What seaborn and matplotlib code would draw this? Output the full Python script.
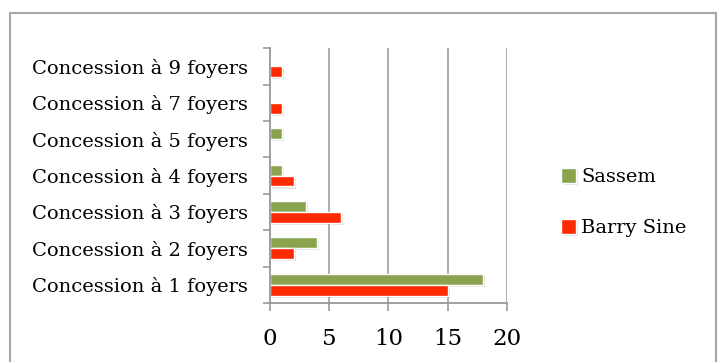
import matplotlib
matplotlib.use("Agg")
import matplotlib.pyplot as plt
import matplotlib.patheffects as pe
from matplotlib.patches import Rectangle
import numpy as np
import pandas as pd
import seaborn as sns

# data (bottom category first)
categories = ["Concession à 1 foyers", "Concession à 2 foyers", "Concession à 3 foyers",
              "Concession à 4 foyers", "Concession à 5 foyers", "Concession à 7 foyers",
              "Concession à 9 foyers"]
sassem = [18, 4, 3, 1, 1, 0, 0]
barry_sine = [15, 2, 6, 2, 0, 1, 1]
series = ["Sassem", "Barry Sine"]
colors = {"Sassem": "#8aa34f", "Barry Sine": "#ff2a00"}
xticks = [0, 5, 10, 15, 20]

df = pd.DataFrame({
    "cat": categories * 2,
    "value": sassem + barry_sine,
    "serie": ["Sassem"] * len(categories) + ["Barry Sine"] * len(categories),
})

sns.set_style("white")
plt.rcParams["font.family"] = ["DejaVu Serif"]
plt.rcParams["text.color"] = "black"

fig = plt.figure(figsize=(7.18, 3.62), dpi=100)
ax = fig.add_axes([0.376, 0.163, 0.330, 0.704])

sns.barplot(data=df, x="value", y="cat", hue="serie", order=categories[::-1],
            hue_order=series, palette=colors, orient="h", width=0.6,
            saturation=1, ax=ax, legend=True)

for bar in ax.patches:
    bar.set_path_effects([pe.SimplePatchShadow(offset=(1.5, -1.5), alpha=0.12), pe.Normal()])

ax.set_xlim(0, 20)
ax.set_xticks(xticks)
ax.set_xticklabels([str(t) for t in xticks], fontsize=16.5, color="black")
ax.set_ylim(len(categories) - 0.5, -0.5)
ax.set_yticks(range(len(categories)))
ax.set_yticklabels(categories[::-1], fontsize=14, color="black")
ax.set_yticks(np.arange(-0.5, len(categories), 1), minor=True)
ax.tick_params(axis="y", which="major", left=False, length=0, pad=16)
ax.tick_params(axis="y", which="minor", left=True, length=5, color="#999999", width=1.2)
ax.tick_params(axis="x", which="major", bottom=True, length=6, color="#999999", width=1.2, pad=12)
ax.set_xlabel("")
ax.set_ylabel("")
ax.xaxis.grid(True, color="#a6a6a6", lw=1.3)
ax.set_axisbelow(True)
for s in ["top", "right"]:
    ax.spines[s].set_visible(False)
for s in ["left", "bottom"]:
    ax.spines[s].set_color("#999999")
    ax.spines[s].set_linewidth(1.3)

handles, labels = ax.get_legend_handles_labels()
ax.legend(handles, labels, loc="center left", bbox_to_anchor=(0.757, 0.44),
          bbox_transform=fig.transFigure, frameon=False, fontsize=14,
          handlelength=0.75, handleheight=0.75, handletextpad=0.3, labelspacing=1.7)

fig.patches.append(Rectangle((10 / 718, -0.05), 706 / 718, 1.05 - 13 / 362,
                             transform=fig.transFigure, fill=False,
                             edgecolor="#a6a6a6", lw=1.5))

fig.savefig("out.png", dpi=100)
